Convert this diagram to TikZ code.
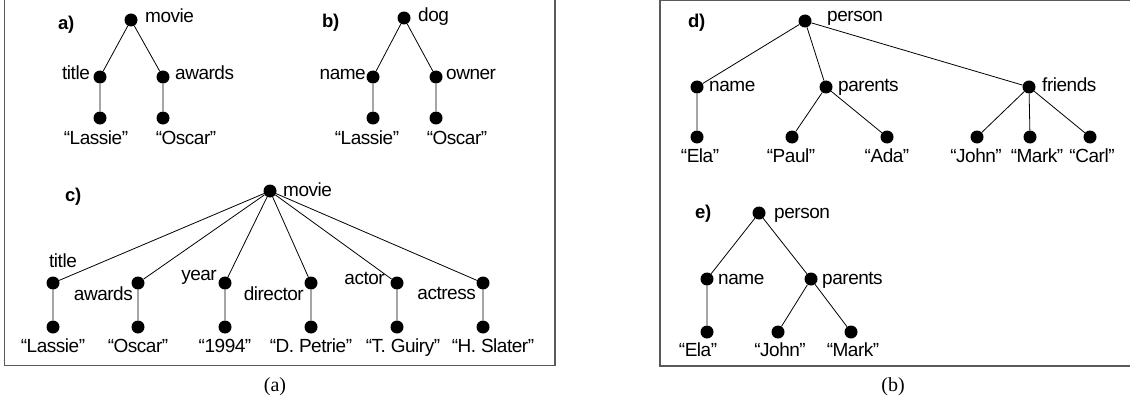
\documentclass[tikz,border=0pt]{standalone}
\usepackage{fontspec}
\setmainfont{Liberation Serif}
\setsansfont{Liberation Sans}[LetterSpace=-2.5]
\begin{document}
\begin{tikzpicture}[x=1pt,y=-1pt,
  dot/.style={circle,fill=black,inner sep=0pt,minimum size=13pt},
  lbl/.style={inner sep=0pt,font=\sffamily\fontsize{19}{22}\selectfont},
  tag/.style={inner sep=0pt,font=\sffamily\bfseries\fontsize{18.5}{22}\selectfont},
  captxt/.style={inner sep=0pt,font=\rmfamily\fontsize{20}{24}\selectfont},
  edge/.style={draw=black,line width=0.8pt},
  frame/.style={draw=black!65,line width=1.4pt}]
\useasboundingbox (0,0) rectangle (1130,404);
\clip (0,0) rectangle (1130,404);
% frames
\draw[frame] (4.5,-5) rectangle (555,365.5);
\draw[frame] (660,0.5) rectangle (1140,366);
% ---------- a)
\node[tag,anchor=base west] (ta) at (58,30) {a)};
\node[dot] (a0) at (131,20) {};
\node[dot] (a1) at (100,77) {};
\node[dot] (a2) at (163,77) {};
\node[dot] (a3) at (100,118) {};
\node[dot] (a4) at (163,118) {};
\node[lbl,anchor=base west] (la0) at (145,23) {movie};
\node[lbl,anchor=base east] (la1) at (90,80) {title};
\node[lbl,anchor=base west] (la2) at (175,80) {awards};
\node[lbl,anchor=base] (la3) at (96,144) {“Lassie”};
\node[lbl,anchor=base] (la4) at (186,144) {“Oscar”};
\draw[edge] (a0)--(a1) (a0)--(a2) (a1)--(a3) (a2)--(a4);
% ---------- b)
\node[tag,anchor=base west] (tb) at (322,28) {b)};
\node[dot] (b0) at (404,18) {};
\node[dot] (b1) at (373,77) {};
\node[dot] (b2) at (436,77) {};
\node[dot] (b3) at (373,118) {};
\node[dot] (b4) at (436,118) {};
\node[lbl,anchor=base west] (lb0) at (418,22) {dog};
\node[lbl,anchor=base east] (lb1) at (366,80) {name};
\node[lbl,anchor=base west] (lb2) at (446,80) {owner};
\node[lbl,anchor=base] (lb3) at (367,144) {“Lassie”};
\node[lbl,anchor=base] (lb4) at (457,144) {“Oscar”};
\draw[edge] (b0)--(b1) (b0)--(b2) (b1)--(b3) (b2)--(b4);
% ---------- c)
\node[tag,anchor=base west] (tc) at (65,201) {c)};
\node[dot] (c0) at (270,191) {};
\node[lbl,anchor=base west] (lc0) at (283,196) {movie};
\foreach \n/\x in {1/53,2/138,3/225,4/311,5/397,6/483}{
  \node[dot] (c\n) at (\x,283) {};
  \node[dot] (d\n) at (\x,327) {};
  \draw[edge] (c0)--(c\n) (c\n)--(d\n);
}
\node[lbl,anchor=base] (lc1) at (63,267) {title};
\node[lbl,anchor=base east] (lc2) at (133,300) {awards};
\node[lbl,anchor=base east] (lc3) at (217,280) {year};
\node[lbl,anchor=base east] (lc4) at (304,300) {director};
\node[lbl,anchor=base east] (lc5) at (385,284) {actor};
\node[lbl,anchor=base east] (lc6) at (476,299) {actress};
\node[lbl,anchor=base] (ld1) at (53,352) {“Lassie”};
\node[lbl,anchor=base] (ld2) at (138,352) {“Oscar”};
\node[lbl,anchor=base] (ld3) at (225,352) {“1994”};
\node[lbl,anchor=base] (ld4) at (311,352) {“D. Petrie”};
\node[lbl,anchor=base] (ld5) at (403,352) {“T. Guiry”};
\node[lbl,anchor=base] (ld6) at (493,352) {“H. Slater”};
% ---------- d)
\node[tag,anchor=base west] (td) at (688,28) {d)};
\node[dot] (p0) at (805,21) {};
\node[lbl,anchor=base west] (lp0) at (827,22) {person};
\node[dot] (p1) at (697,87) {};
\node[dot] (p2) at (826,87) {};
\node[dot] (p3) at (1029,87) {};
\node[lbl,anchor=base west] (lp1) at (709,92) {name};
\node[lbl,anchor=base west] (lp2) at (838,92) {parents};
\node[lbl,anchor=base west] (lp3) at (1042,92) {friends};
\node[dot] (q1) at (697,137) {};
\node[dot] (q2) at (792,137) {};
\node[dot] (q3) at (887,137) {};
\node[dot] (q4) at (977,137) {};
\node[dot] (q5) at (1030,137) {};
\node[dot] (q6) at (1090,137) {};
\node[lbl,anchor=base] (lq1) at (700,162) {“Ela”};
\node[lbl,anchor=base] (lq2) at (791,162) {“Paul”};
\node[lbl,anchor=base] (lq3) at (887,162) {“Ada”};
\node[lbl,anchor=base] (lq4) at (976,162) {“John”};
\node[lbl,anchor=base] (lq5) at (1037,162) {“Mark”};
\node[lbl,anchor=base] (lq6) at (1092,162) {“Carl”};
\draw[edge] (p0)--(p1) (p0)--(p2) (p0)--(p3)
  (p1)--(q1) (p2)--(q2) (p2)--(q3) (p3)--(q4) (p3)--(q5) (p3)--(q6);
% ---------- e)
\node[tag,anchor=base west] (te) at (695,218) {e)};
\node[dot] (e0) at (759,213) {};
\node[lbl,anchor=base west] (le0) at (774,218) {person};
\node[dot] (e1) at (707,279) {};
\node[dot] (e2) at (811,279) {};
\node[lbl,anchor=base west] (le1) at (718,284) {name};
\node[lbl,anchor=base west] (le2) at (822,284) {parents};
\node[dot] (f1) at (707,332) {};
\node[dot] (f2) at (778,332) {};
\node[dot] (f3) at (851,332) {};
\node[lbl,anchor=base] (lf1) at (698,356) {“Ela”};
\node[lbl,anchor=base] (lf2) at (780,356) {“John”};
\node[lbl,anchor=base] (lf3) at (853,356) {“Mark”};
\draw[edge] (e0)--(e1) (e0)--(e2) (e1)--(f1) (e2)--(f2) (e2)--(f3);
% captions
\node[captxt,anchor=base] (capa) at (275,391) {(a)};
\node[captxt,anchor=base] (capb) at (893,391) {(b)};
\end{tikzpicture}
\end{document}
